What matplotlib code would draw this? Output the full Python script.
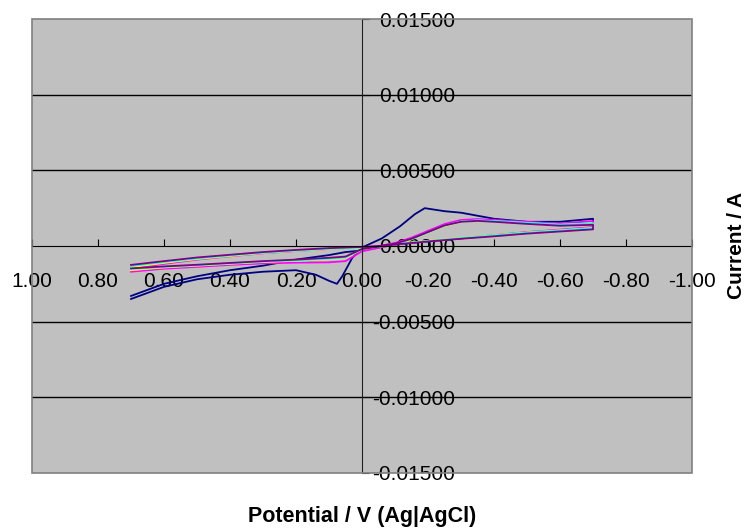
import matplotlib.pyplot as plt
from matplotlib.patches import Rectangle
from matplotlib.ticker import FuncFormatter

plt.rcParams['font.family'] = ['Liberation Sans', 'DejaVu Sans']

# potentials (V vs Ag|AgCl) for the forward and reverse sweeps
e_fwd = [0.70, 0.60, 0.50, 0.40, 0.30, 0.20, 0.10, 0.00, -0.05, -0.10, -0.15,
         -0.20, -0.25, -0.30, -0.35, -0.40, -0.50, -0.60, -0.70]
e_rev = [-0.70, -0.60, -0.50, -0.40, -0.30, -0.20, -0.10, 0.00, 0.05, 0.10,
         0.20, 0.30, 0.40, 0.50, 0.60, 0.70]

# first cycle (navy) has its own points around the dip / peak
e_first_fwd = [0.70, 0.65, 0.60, 0.50, 0.40, 0.30, 0.20, 0.14, 0.10, 0.076,
               0.06, 0.03, 0.00, -0.06, -0.115, -0.16, -0.19, -0.22, -0.25,
               -0.30, -0.35, -0.40, -0.50, -0.60, -0.70]
i_first_fwd = [-0.0035, -0.0031, -0.0027, -0.0022, -0.0019, -0.0017, -0.0016,
               -0.0019, -0.0023, -0.0025, -0.0020, -0.0008, -0.0001, 0.0005,
               0.0013, 0.0021, 0.0025, 0.0024, 0.0023, 0.0022, 0.0020, 0.0018,
               0.0016, 0.0016, 0.0018]
i_first_rev = [0.0012, 0.0010, 0.0009, 0.0007, 0.0005, 0.0003, 0.0001,
               -0.0003, -0.0004, -0.0006, -0.0009, -0.0013, -0.0016, -0.0020,
               -0.0025, -0.0033]

i_magenta_fwd = [-0.00150, -0.00118, -0.00090, -0.00068, -0.00048, -0.00033,
                 -0.00020, -0.00010, -0.00002, 0.00020, 0.00055, 0.00100,
                 0.00145, 0.00172, 0.00178, 0.00172, 0.00160, 0.00148, 0.00165]
i_magenta_rev = [0.00125, 0.00108, 0.00092, 0.00072, 0.00052, 0.00032, 0.00010,
                 -0.00035, -0.00100, -0.00108, -0.00110, -0.00115, -0.00125,
                 -0.00138, -0.00150, -0.00170]

i_yellow_fwd = [-0.00140, -0.00112, -0.00086, -0.00066, -0.00046, -0.00032,
                -0.00020, -0.00012, -0.00006, 0.00012, 0.00044, 0.00088,
                0.00132, 0.00160, 0.00168, 0.00164, 0.00152, 0.00140, 0.00150]
i_yellow_rev = [0.00120, 0.00104, 0.00090, 0.00072, 0.00054, 0.00034, 0.00014,
                -0.00022, -0.00080, -0.00088, -0.00098, -0.00106, -0.00118,
                -0.00130, -0.00142, -0.00160]

i_cyan_fwd = [-0.00132, -0.00106, -0.00082, -0.00062, -0.00044, -0.00030,
              -0.00018, -0.00010, -0.00004, 0.00014, 0.00046, 0.00090,
              0.00135, 0.00162, 0.00170, 0.00165, 0.00153, 0.00141, 0.00148]
i_cyan_rev = [0.00118, 0.00102, 0.00088, 0.00070, 0.00052, 0.00032, 0.00012,
              -0.00020, -0.00076, -0.00084, -0.00095, -0.00103, -0.00115,
              -0.00127, -0.00138, -0.00152]

i_purple_fwd = [-0.00125, -0.00100, -0.00076, -0.00058, -0.00040, -0.00026,
                -0.00014, -0.00006, 0.00000, 0.00016, 0.00048, 0.00092,
                0.00136, 0.00160, 0.00166, 0.00160, 0.00146, 0.00134, 0.00140]
i_purple_rev = [0.00110, 0.00096, 0.00082, 0.00064, 0.00048, 0.00030, 0.00010,
                -0.00020, -0.00070, -0.00078, -0.00090, -0.00100, -0.00112,
                -0.00124, -0.00135, -0.00148]

x_ticks = [1.0, 0.8, 0.6, 0.4, 0.2, 0.0, -0.2, -0.4, -0.6, -0.8, -1.0]
y_ticks = [-0.015, -0.010, -0.005, 0.0, 0.005, 0.010, 0.015]

fig = plt.figure(figsize=(7.5, 5.28), dpi=100)
ax = fig.add_axes([0.0427, 0.1042, 0.88, 0.8598])
ax.set_facecolor('#C0C0C0')

# first cycle
ax.plot(e_first_fwd + e_rev, i_first_fwd + i_first_rev, color='#000080', lw=1.3)
# later cycles
cycles = [(i_magenta_fwd, i_magenta_rev, '#FF00FF'),
          (i_yellow_fwd, i_yellow_rev, '#FFFF00'),
          (i_cyan_fwd, i_cyan_rev, '#00FFFF'),
          (i_purple_fwd, i_purple_rev, '#800080')]
for fwd, rev, c in cycles:
    ax.plot(e_fwd + e_rev, fwd + rev, color=c, lw=1.3)

ax.set_xlim(1.0, -1.0)
ax.set_ylim(-0.015, 0.015)

for yv in [-0.010, -0.005, 0.005, 0.010]:
    ax.axhline(yv, color='black', lw=1, zorder=0.5)

# axes crossing at zero
ax.spines['bottom'].set_position(('data', 0))
ax.spines['right'].set_position(('data', 0))
ax.spines['left'].set_visible(False)
ax.spines['top'].set_visible(False)
ax.spines['bottom'].set_color('black')
ax.spines['right'].set_color('#202020')
ax.yaxis.tick_right()

ax.set_xticks(x_ticks)
ax.set_yticks(y_ticks)
ax.xaxis.set_major_formatter(FuncFormatter(lambda v, p: '%.2f' % (v + 0.0)))
ax.yaxis.set_major_formatter(FuncFormatter(lambda v, p: '%.5f' % (v + 0.0)))
ax.tick_params(axis='x', direction='in', length=5, pad=19, labelsize=15)
ax.tick_params(axis='y', direction='out', length=5, pad=62, labelsize=15)
for lab in ax.get_yticklabels():
    lab.set_horizontalalignment('right')

ax.add_patch(Rectangle((0, 0), 1, 1, transform=ax.transAxes, fill=False,
                       edgecolor='#808080', lw=1.2, clip_on=False, zorder=5))

fig.text(0.483, 0.022, 'Potential / V (Ag|AgCl)', ha='center', va='center',
         fontsize=15.5, fontweight='bold')
fig.text(0.982, 0.535, 'Current / A', ha='center', va='center', rotation=90,
         fontsize=15, fontweight='bold')

fig.savefig('out.png', dpi=100)
